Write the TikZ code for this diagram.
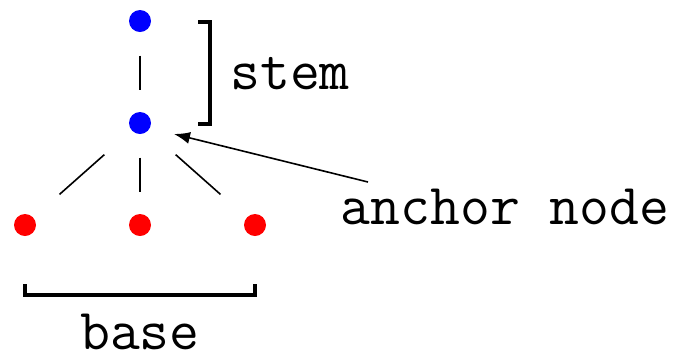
\documentclass[tikz,border=0pt]{standalone}
\usetikzlibrary{calc,arrows.meta}
\begin{document}
\begin{tikzpicture} [x=0.25pt, y=-0.25pt,
            every node/.style={circle, inner sep=0pt, minimum size=5.5pt},
            edge_style/.style={draw=black, line width=0.4pt},
            bracket_style/.style={draw=black, line width=0.8pt},
            label_style/.style={rectangle, minimum size=0pt, font=\fontsize{14.5}{16}\selectfont\ttfamily}]
            \useasboundingbox (0,0) rectangle (675,355);
            \node[fill=blue] (v1) at (140,21) {};
            \node[fill=blue] (v2) at (140,123) {};
            \node[fill=red] (v3) at (25,225) {};
            \node[fill=red] (v4) at (140,225) {};
            \node[fill=red] (v5) at (255,225) {};
            \draw[edge_style] ($(v1)!.34!(v2)$) -- ($(v1)!.68!(v2)$);
            \draw[edge_style] ($(v2)!.31!(v3)$) -- ($(v2)!.70!(v3)$);
            \draw[edge_style] ($(v2)!.34!(v4)$) -- ($(v2)!.68!(v4)$);
            \draw[edge_style] ($(v2)!.31!(v5)$) -- ($(v2)!.70!(v5)$);
            % brackets
            \draw[bracket_style] (198,22) -- (210,22) -- (210,124) -- (198,124);
            \draw[bracket_style] (25,284) -- (25,295) -- (255,295) -- (255,284);
            \node[label_style, anchor=base] (stem) at (290,89) {stem};
            \node[label_style, anchor=base] (base) at (140,349) {base};
            \node[label_style, anchor=base] (anchorlabel) at (505,224) {anchor node};
            \coordinate (tail) at (368,182);
            \draw[edge_style, -{Latex[length=4pt, width=3pt]}] (tail) -- ($(v2)+(34,11)$);
        \end{tikzpicture}
\end{document}
